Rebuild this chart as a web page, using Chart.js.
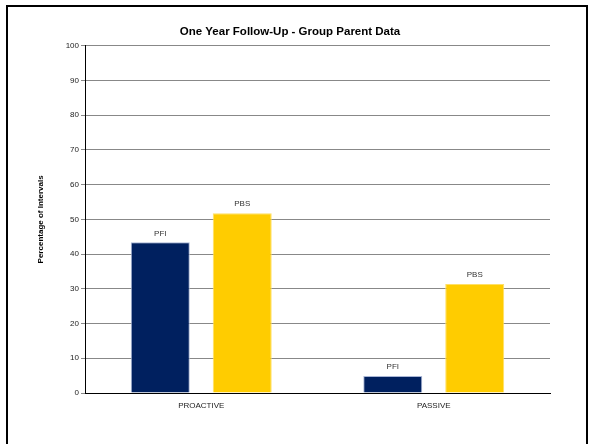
<!DOCTYPE html>
<html>
<head>
<meta charset="utf-8">
<script src="https://cdn.jsdelivr.net/npm/chart.js@4/dist/chart.umd.min.js"></script>
<style>
  html, body { margin: 0; padding: 0; background: #fff; }
  #wrap { position: relative; width: 592px; height: 444px; overflow: hidden; }
  #frame { position: absolute; left: 6px; top: 5px; width: 578px; height: 460px; border: 2px solid #000; border-bottom: none; }
  canvas { position: absolute; left: 0; top: 0; }
</style>
</head>
<body>
<div id="wrap">
  <div id="frame"></div>
  <canvas id="myChart1" width="592" height="444"></canvas>
</div>
<script>
var categories = ["PROACTIVE", "PASSIVE"];
var pfiValues = [43.4, 4.9];
var pbsValues = [51.8, 31.4];
var yTicks = [0, 10, 20, 30, 40, 50, 60, 70, 80, 90, 100];

var FONT = "'Liberation Sans', Arial, sans-serif";

// writes each series name above its bars
var barLabels = {
	id: 'barLabels',
	afterDatasetsDraw: function(chart) {
		var ctx = chart.ctx;
		ctx.save();
		ctx.font = "8px " + FONT;
		ctx.fillStyle = "#333";
		ctx.textAlign = "center";
		ctx.textBaseline = "bottom";
		chart.data.datasets.forEach(function(ds, i) {
			chart.getDatasetMeta(i).data.forEach(function(bar) {
				ctx.fillText(ds.label, bar.x, bar.y - 5);
			});
		});
		ctx.restore();
	}
};

window.onload = function() {
	var barChartData = {
		labels: categories,
		datasets: [{
			label: 'PFI',
			backgroundColor: "#00205f",
			borderColor: "#a9b6d6",
			borderWidth: 1,
			data: pfiValues
		}, {
			label: 'PBS',
			backgroundColor: "#ffcc00",
			borderColor: "#ffe066",
			borderWidth: 1,
			data: pbsValues
		}]
	};
	var ctx = document.getElementById("myChart1").getContext("2d");
	window.myBar = new Chart(ctx, {
		type: 'bar',
		data: barChartData,
		plugins: [barLabels],
		options: {
			responsive: false,
			animation: false,
			categoryPercentage: 0.705,
			barPercentage: 0.72,
			layout: {
				padding: { left: 30, right: 42, top: 25, bottom: 31 }
			},
			plugins: {
				legend: { display: false },
				tooltip: { enabled: false },
				title: {
					display: true,
					text: 'One Year Follow-Up - Group Parent Data',
					color: '#000',
					font: { family: FONT, size: 11.5, weight: 'bold' },
					padding: { top: 0, bottom: 7 }
				}
			},
			scales: {
				x: {
					grid: { display: false },
					border: { color: '#000', width: 1 },
					ticks: { color: '#222', font: { family: FONT, size: 8 }, padding: 0 },
					afterFit: function(scale) { scale.height = 20; }
				},
				y: {
					min: 0,
					max: 100,
					afterBuildTicks: function(scale) {
						scale.ticks = yTicks.map(function(v) { return { value: v }; });
					},
					grid: { color: '#888', tickColor: '#888', tickLength: 4 },
					border: { color: '#000', width: 1 },
					ticks: { color: '#222', font: { family: FONT, size: 8 }, padding: 2 },
					title: {
						display: true,
						text: 'Percentage of Intervals',
						color: '#000',
						font: { family: FONT, size: 8, weight: 'bold' },
						padding: { top: 6, bottom: 0 }
					},
					afterFit: function(scale) { scale.width = 55; }
				}
			}
		}
	});
};
</script>
</body>
</html>
